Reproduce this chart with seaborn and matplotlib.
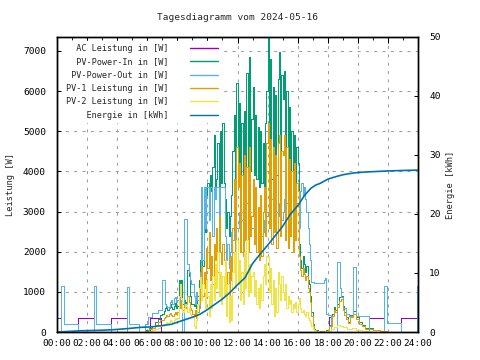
import numpy as np
import pandas as pd
import matplotlib
matplotlib.use("Agg")
import matplotlib.pyplot as plt
from matplotlib.ticker import MultipleLocator
from matplotlib.lines import Line2D
import seaborn as sns

sns.set_theme(style="white")
plt.rcParams['font.family'] = ['DejaVu Sans Mono', 'DejaVu Sans']

# 5-minute readings between 07:00 and 17:55 (one row per hour, 12 values)
day_times = np.arange(7 * 12, 18 * 12) / 12.0

pv_in_day = [
    450, 520, 600, 650, 560, 600, 700, 620, 580, 650, 720, 600,
    650, 1290, 1100, 1290, 700, 800, 650, 750, 1540, 1400, 900, 700,
    700, 650, 800, 600, 900, 1300, 1800, 1900, 1650, 3000, 2500, 3400,
    3700, 3300, 3900, 3500, 4100, 4900, 3600, 3800, 4700, 3500, 5000, 3700,
    5200, 3700, 3300, 2600, 3000, 2400, 2900, 3400, 4500, 5400, 3600, 6200,
    3800, 5700, 3600, 5200, 3500, 5500, 3900, 6450, 3700, 6850, 4000, 5300,
    6100, 3900, 5400, 3800, 5100, 3600, 5000, 3700, 4700, 3500, 5200, 6000,
    7345, 4000, 6800, 3800, 6100, 4200, 5900, 3900, 6300, 6980, 4100, 6400,
    5800, 6500, 4000, 6000, 3900, 5600, 3800, 5000, 3700, 4900, 3600, 4600,
    4200, 2200, 1800, 1600, 1900, 1700, 1500, 1650, 1300, 1200, 900, 500,
    200, 80, 50, 40, 30, 30, 20, 20, 20, 20, 30, 40,
]
pv_out_day = [
    1290, 1290, 700, 650, 620, 600, 750, 800, 700, 850, 880, 750,
    800, 700, 900, 850, 0, 2820, 2820, 2820, 1700, 1500, 1300, 1200,
    1200, 900, 700, 1000, 800, 600, 1500, 3600, 1800, 3600, 2600, 3600,
    3600, 2800, 3600, 3600, 2400, 3600, 3300, 3600, 3600, 2600, 3600, 3600,
    3600, 3600, 2400, 1800, 2200, 1600, 2000, 2500, 2300, 2600, 2400, 2600,
    2600, 3000, 2400, 2800, 2100, 3000, 2700, 3200, 2500, 3100, 2800, 2600,
    2600, 2400, 2500, 2000, 2300, 2200, 2600, 2400, 2800, 2500, 2700, 2900,
    3000, 3200, 2800, 3300, 2900, 3100, 2700, 3000, 3200, 2900, 3100, 2800,
    3000, 3300, 2900, 3200, 2800, 3100, 2700, 3000, 2800, 3100, 2900, 3200,
    3200, 2600, 3500, 3700, 3400, 3600, 3300, 3000, 2600, 2200, 1800, 1250,
    1250, 1220, 1220, 1220, 1220, 1220, 1220, 1220, 1220, 1300, 1345, 450,
]
pv1_day = [
    300, 350, 380, 420, 400, 450, 480, 420, 400, 450, 500, 460,
    500, 700, 600, 800, 550, 650, 600, 700, 900, 750, 600, 550,
    450, 400, 550, 350, 500, 700, 1200, 1650, 900, 1500, 1100, 2100,
    1600, 2500, 1300, 1900, 1200, 2200, 1800, 2600, 1500, 2900, 2000, 1700,
    2200, 1800, 1200, 800, 1500, 900, 1900, 1300, 2600, 3800, 2000, 4600,
    3600, 4200, 2000, 3900, 1900, 4400, 2300, 4100, 2000, 4600, 2400, 2900,
    3800, 2200, 3600, 2000, 3100, 1800, 3400, 1900, 3000, 3600, 2400, 4700,
    5200, 2600, 4800, 2200, 4600, 2500, 4400, 2100, 4700, 4900, 2400, 4500,
    4400, 4900, 2300, 4600, 2100, 4300, 2400, 4000, 2000, 4200, 2300, 3700,
    3500, 1900, 1550, 1400, 1600, 1450, 1300, 1400, 1100, 1000, 750, 400,
    150, 60, 40, 30, 20, 20, 15, 15, 15, 15, 20, 30,
]
pv2_day = [
    150, 180, 200, 250, 220, 260, 300, 280, 250, 300, 350, 320,
    350, 900, 1200, 850, 500, 600, 700, 650, 500, 600, 450, 400,
    400, 150, 100, 300, 700, 1100, 1375, 800, 1200, 1000, 600, 1300,
    900, 400, 1200, 600, 1400, 800, 1700, 1100, 2000, 900, 1500, 700,
    1400, 900, 1800, 400, 1200, 250, 900, 300, 1500, 2000, 1100, 2300,
    1200, 1800, 800, 1500, 700, 2000, 1100, 2300, 900, 1700, 1000, 1400,
    1500, 900, 1300, 700, 1100, 600, 1200, 800, 1400, 1700, 1200, 1900,
    1900, 1000, 1600, 700, 1300, 400, 1100, 500, 1500, 1200, 800, 1400,
    1000, 800, 1200, 600, 900, 700, 800, 500, 700, 600, 750, 500,
    700, 850, 600, 500, 550, 450, 400, 500, 350, 300, 250, 150,
    80, 40, 30, 20, 15, 10, 10, 10, 10, 10, 15, 20,
]

# night / morning / evening readings as (hour, value) change points
pv_in_early_t = [0.0, 5.6, 5.85, 6.1, 6.3, 6.5, 6.7, 6.85]
pv_in_early_v = [0, 0, 40, 90, 150, 250, 330, 420]
pv_in_late_t = [18.0, 18.1, 18.25, 18.4, 18.5, 18.6, 18.75, 18.85, 19.0, 19.1, 19.2,
                19.35, 19.5, 19.7, 19.9, 20.1, 20.3, 20.5, 21.0, 21.5, 22.0, 24.0]
pv_in_late_v = [60, 180, 450, 630, 560, 700, 880, 900, 650, 500, 380,
                260, 420, 520, 380, 250, 180, 90, 50, 30, 0, 0]

pv1_early_t = [0.0, 5.6, 5.85, 6.1, 6.3, 6.5, 6.7, 6.85]
pv1_early_v = [0, 0, 30, 70, 110, 180, 250, 300]
pv1_late_t = pv_in_late_t
pv1_late_v = [40, 150, 400, 560, 500, 620, 780, 820, 560, 430, 320,
              220, 370, 460, 320, 200, 140, 70, 40, 20, 0, 0]

pv2_early_t = [0.0, 5.9, 6.1, 6.3, 6.5, 6.7, 6.85]
pv2_early_v = [0, 0, 20, 40, 70, 110, 140]
pv2_late_t = [18.0, 18.2, 18.4, 18.6, 18.8, 19.0, 19.3, 19.6, 19.9, 20.3, 20.8, 21.2, 24.0]
pv2_late_v = [30, 80, 120, 170, 150, 120, 80, 100, 60, 30, 10, 0, 0]

pv_out_early_t = [0.0, 0.29, 0.44, 1.4, 2.44, 2.6, 3.62, 4.67, 4.8, 5.44, 5.87, 6.07, 6.33, 6.7]
pv_out_early_v = [0, 1145, 200, 0, 1145, 200, 0, 1120, 200, 0, 210, 380, 480, 550]
pv_out_late_t = [18.0, 18.2, 18.6, 18.8, 18.9, 19.0, 19.2, 19.4, 19.7, 19.85,
                 20.73, 21.73, 21.93, 22.87, 23.93, 24.0]
pv_out_late_v = [420, 0, 1740, 1100, 870, 600, 450, 400, 1620, 400,
                 0, 1145, 215, 0, 1145, 1145]

ac_t = [0.0, 0.29, 1.4, 2.44, 3.62, 4.67, 6.18, 6.93, 18.07, 18.2, 20.73, 21.73, 22.87, 24.0]
ac_v = [350, 0, 350, 0, 350, 0, 350, 0, 370, 0, 350, 0, 350, 350]

energy_t = [0.0, 0.8, 1.5, 3.0, 3.8, 4.8, 5.6, 6.2, 7.0, 7.6, 8.4, 9.0, 9.5, 10.0,
            10.5, 11.0, 11.5, 12.0, 12.5, 13.0, 13.5, 14.0, 14.5, 15.0, 15.5, 16.0,
            16.5, 16.9, 17.2, 17.5, 18.0, 18.5, 19.0, 19.7, 20.4, 22.0, 24.0]
energy_v = [0.0, 0.1, 0.2, 0.3, 0.4, 0.6, 0.8, 0.85, 1.1, 1.3, 2.0, 2.5, 3.0, 3.8,
            4.7, 5.6, 6.7, 8.0, 9.2, 11.6, 13.2, 14.7, 16.3, 17.9, 19.9, 21.4,
            23.3, 24.4, 24.9, 25.2, 25.9, 26.3, 26.65, 26.95, 27.1, 27.3, 27.45]

names = ['AC Leistung in [W]', 'PV-Power-In in [W]', 'PV-Power-Out in [W]',
         'PV-1 Leistung in [W]', 'PV-2 Leistung in [W]', 'Energie in [kWh]']
colors = ['#9400d3', '#009e73', '#56b4e9', '#e69f00', '#f0e442', '#0072b2']
hours = ['%02d:00' % h for h in range(0, 25, 2)]


def series(name, early_t, early_v, day_v, late_t, late_v):
    t = list(early_t) + list(day_times) + list(late_t)
    v = list(early_v) + list(day_v) + list(late_v)
    return pd.DataFrame({'Stunde': t, 'Wert': v, 'Serie': name})


df = pd.concat([
    pd.DataFrame({'Stunde': ac_t, 'Wert': ac_v, 'Serie': names[0]}),
    series(names[1], pv_in_early_t, pv_in_early_v, pv_in_day, pv_in_late_t, pv_in_late_v),
    series(names[2], pv_out_early_t, pv_out_early_v, pv_out_day, pv_out_late_t, pv_out_late_v),
    series(names[3], pv1_early_t, pv1_early_v, pv1_day, pv1_late_t, pv1_late_v),
    series(names[4], pv2_early_t, pv2_early_v, pv2_day, pv2_late_t, pv2_late_v),
], ignore_index=True)
energy = pd.DataFrame({'Stunde': energy_t, 'Energie': energy_v})

fig = plt.figure(figsize=(4.8, 3.6), dpi=100)
ax = fig.add_axes([57 / 480, 28 / 360, 361 / 480, 295 / 360])
ax2 = ax.twinx()

sns.lineplot(data=df, x='Stunde', y='Wert', hue='Serie', hue_order=names[:5],
             palette=colors[:5], drawstyle='steps-post', estimator=None,
             sort=False, legend=False, lw=0.6, antialiased=False, ax=ax)
sns.lineplot(data=energy, x='Stunde', y='Energie', color=colors[5],
             estimator=None, lw=1.2, ax=ax2)

grid_kw = dict(color='#a0a0a0', lw=0.75, ls=(0, (3, 5)))
ax.set_xlim(0, 24)
ax.set_ylim(0, 7345)
ax2.set_ylim(0, 50)
ax.set_xticks(range(0, 25, 2))
ax.set_xticklabels(hours)
ax.xaxis.set_minor_locator(MultipleLocator(1))
ax.set_yticks(range(0, 7001, 1000))
ax2.set_yticks(range(0, 51, 10))
ax.grid(True, axis='both', which='major', **grid_kw)

for a in (ax, ax2):
    for s in a.spines.values():
        s.set_color('black')
        s.set_linewidth(1.0)
ax.tick_params(axis='x', which='major', direction='in', length=4, width=0.75,
               top=True, labelsize=6.8, pad=5, colors='black')
ax.tick_params(axis='x', which='minor', direction='in', length=2, width=0.75, top=True)
ax.tick_params(axis='y', which='major', direction='in', length=3, width=0.75,
               labelsize=6.8, pad=8, colors='black')
ax2.tick_params(axis='y', which='major', direction='in', length=3, width=0.75,
                labelsize=6.8, pad=8, colors='black')

ax.set_xlabel('')
ax.set_ylabel('Leistung [W]', fontsize=6.3, labelpad=6)
ax2.set_ylabel('Energie [kWh]', fontsize=6.3, labelpad=4)
fig.text(237.5 / 480, 1 - 18 / 360, 'Tagesdiagramm vom 2024-05-16',
         ha='center', va='center', fontsize=6.8)

width = max(len(n) for n in names)
handles = [Line2D([], [], color=c, lw=1.0) for c in colors]
leg = ax2.legend(handles, [n.rjust(width) for n in names], loc='upper left',
                 bbox_to_anchor=(0.005, 1.0), markerfirst=False,
                 prop={'family': 'DejaVu Sans Mono', 'size': 6.1},
                 handlelength=3.3, handletextpad=2.6, labelspacing=0.52,
                 borderpad=0.3, frameon=True, fancybox=False,
                 facecolor='white', edgecolor='white', framealpha=1.0)
leg.set_zorder(10)

fig.savefig('out.png', dpi=100, facecolor='white')
